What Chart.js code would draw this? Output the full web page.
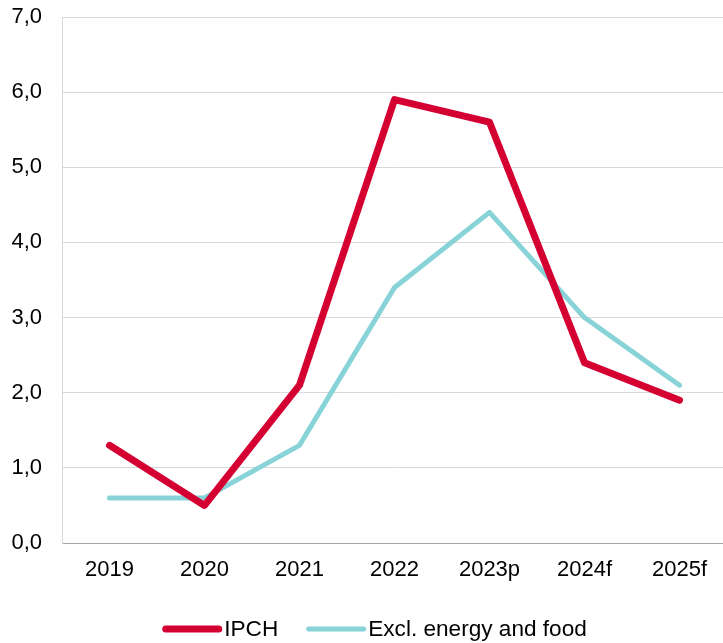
<!DOCTYPE html>
<html>
<head>
<meta charset="utf-8">
<script src="https://cdn.jsdelivr.net/npm/chart.js@4"></script>
<style>
  html, body { margin: 0; padding: 0; background: #ffffff; }
  #wrap { width: 723px; height: 643px; overflow: hidden; }
</style>
</head>
<body>
<div id="wrap"><canvas id="chart" width="723" height="643"></canvas></div>
<script>
// Inflation, annual % change
const years = ['2019', '2020', '2021', '2022', '2023p', '2024f', '2025f'];
const ipch = [1.3, 0.5, 2.1, 5.9, 5.6, 2.4, 1.9];
const core = [0.6, 0.6, 1.3, 3.4, 4.4, 3.0, 2.1];
const seriesNames = ['IPCH', 'Excl. energy and food'];
const yTicks = [0, 1, 2, 3, 4, 5, 6, 7];

const RED = '#D50032';
const TEAL = '#88D3D7';
const FONT = '"Liberation Sans", Arial, sans-serif';

Chart.defaults.font.family = FONT;
Chart.defaults.font.size = 22;
Chart.defaults.color = '#000000';

// The plot area runs slightly past the right edge of the canvas (gridlines are cut off there).
const bleedRight = {
  id: 'bleedRight',
  afterLayout(chart) {
    const extra = 4;
    const x = chart.scales.x;
    x.right += extra;
    x.width += extra;
    chart.chartArea.right += extra;
    chart.chartArea.width += extra;
    x.configure();
  }
};

// Legend drawn below the axis: a short round-capped line per series, label right after it.
const lineLegend = {
  id: 'lineLegend',
  afterDraw(chart) {
    const ctx = chart.ctx;
    const sampleW = 60, textGap = 2, itemGap = 28;
    ctx.save();
    ctx.font = '22.6px ' + FONT;
    ctx.textBaseline = 'middle';
    const items = chart.data.datasets.map(ds => ({
      ds, tw: ctx.measureText(ds.label).width
    }));
    const total = items.reduce((a, it) => a + sampleW + textGap + it.tw, 0) + itemGap * (items.length - 1);
    const cx = chart.width / 2 + 13;
    let x = cx - total / 2;
    const y = chart.height - 14;
    items.forEach(it => {
      const cap = it.ds.borderWidth / 2;
      ctx.strokeStyle = it.ds.borderColor;
      ctx.lineWidth = it.ds.borderWidth;
      ctx.lineCap = 'round';
      ctx.beginPath();
      ctx.moveTo(x + cap, y);
      ctx.lineTo(x + sampleW - cap, y);
      ctx.stroke();
      ctx.fillStyle = '#000000';
      ctx.fillText(it.ds.label, x + sampleW + textGap, y + 1);
      x += sampleW + textGap + it.tw + itemGap;
    });
    ctx.restore();
  }
};

new Chart(document.getElementById('chart'), {
  type: 'line',
  data: {
    labels: years,
    datasets: [
      {
        label: seriesNames[0],
        data: ipch,
        borderColor: RED,
        backgroundColor: RED,
        borderWidth: 7,
        borderCapStyle: 'round',
        borderJoinStyle: 'round',
        pointRadius: 0,
        tension: 0
      },
      {
        label: seriesNames[1],
        data: core,
        borderColor: TEAL,
        backgroundColor: TEAL,
        borderWidth: 5,
        borderCapStyle: 'round',
        borderJoinStyle: 'round',
        pointRadius: 0,
        tension: 0
      }
    ]
  },
  plugins: [bleedRight, lineLegend],
  options: {
    responsive: false,
    animation: false,
    layout: { padding: { top: 17, right: 0, left: 0, bottom: 48 } },
    plugins: {
      tooltip: { enabled: false },
      legend: { display: false }
    },
    scales: {
      x: {
        offset: true,
        grid: { display: false, drawTicks: false },
        border: { display: true, color: '#a6a6a6', width: 1 },
        ticks: { padding: 14, maxRotation: 0 },
        afterFit: (s) => { s.height = 52; s.paddingLeft = 0; s.paddingRight = 0; }
      },
      y: {
        min: 0,
        max: 7,
        afterBuildTicks: (s) => { s.ticks = yTicks.map(v => ({ value: v })); },
        grid: {
          drawTicks: false,
          color: (c) => (c.tick && c.tick.value === 0 ? '#a6a6a6' : '#d9d9d9'),
          lineWidth: 1
        },
        border: { display: true, color: '#d9d9d9', width: 1 },
        ticks: {
          padding: 20,
          callback: (v) => Number(v).toFixed(1).replace('.', ',')
        },
        afterFit: (s) => {
          s.width = 62;
          s.paddingTop = 0;
          s.paddingBottom = 0;
        }
      }
    }
  }
});
</script>
</body>
</html>
